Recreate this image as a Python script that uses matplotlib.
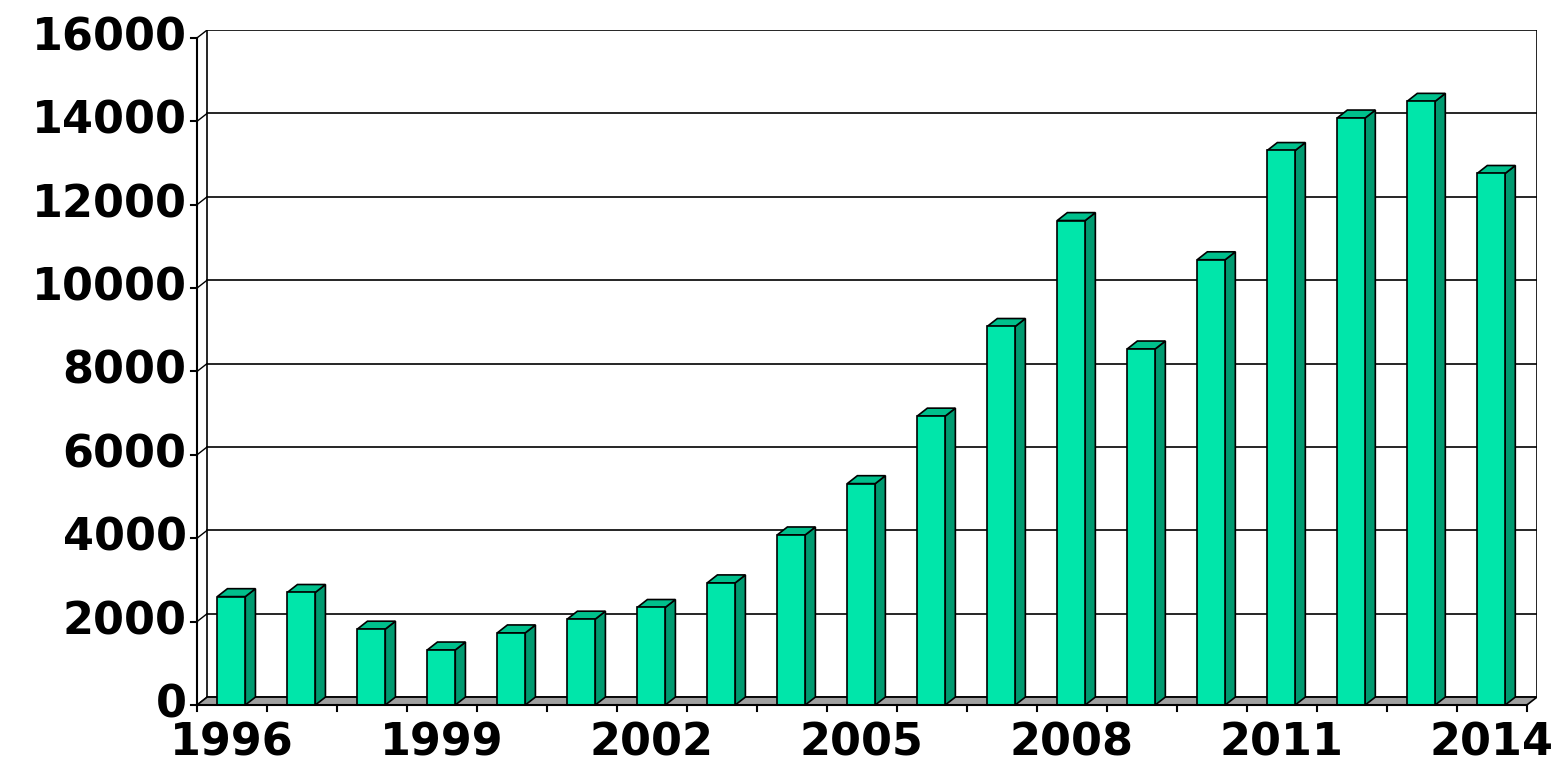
import matplotlib
matplotlib.use("Agg")
import matplotlib.pyplot as plt
from matplotlib.patches import Polygon

years = list(range(1996, 2015))
values = [2600, 2700, 1820, 1320, 1730, 2060, 2340, 2930, 4080, 5310,
          6930, 9080, 11620, 8540, 10680, 13300, 14080, 14480, 12750]
yticks = list(range(0, 16001, 2000))

DX = 0.145   # depth offset in category units
DY = 190     # depth offset in value units
W = 0.4
OFF = 0.29

fig = plt.figure(figsize=(15.61, 7.75), dpi=100)
ax = fig.add_axes([197 / 1561, 1 - 705 / 775, 1340 / 1561, 675 / 775])
n = len(years)
ax.set_xlim(0, n + DX)
ax.set_ylim(0, 16000 + DY)
ax.axis('off')

# back wall grid
for t in yticks:
    ax.plot([DX, n + DX], [t + DY, t + DY], color='black', lw=1.2, zorder=1)
ax.plot([DX, DX], [DY, 16000 + DY], color='black', lw=1.2, zorder=1)
ax.plot([n + DX, n + DX], [DY, 16000 + DY], color='black', lw=1.2, zorder=1)
# floor
ax.add_patch(Polygon([(0, 0), (n, 0), (n + DX, DY), (DX, DY)], closed=True,
                     facecolor='#a0a0a0', edgecolor='black', lw=1.2, zorder=2))

for i, v in enumerate(values):
    x0 = i + OFF
    x1 = x0 + W
    ax.add_patch(Polygon([(x0, 0), (x1, 0), (x1, v), (x0, v)], closed=True,
                         facecolor='#00e6aa', edgecolor='black', lw=1.2, zorder=4))
    ax.add_patch(Polygon([(x1, 0), (x1 + DX, DY), (x1 + DX, v + DY), (x1, v)], closed=True,
                         facecolor='#009a70', edgecolor='black', lw=1.2, zorder=3))
    ax.add_patch(Polygon([(x0, v), (x1, v), (x1 + DX, v + DY), (x0 + DX, v + DY)], closed=True,
                         facecolor='#00c08c', edgecolor='black', lw=1.2, zorder=3))

# front axes
ax.plot([0, 0], [0, 16000], color='black', lw=1.5, zorder=5, clip_on=False)
ax.plot([0, n], [0, 0], color='black', lw=1.5, zorder=5, clip_on=False)
for t in yticks:
    ax.plot([-0.08, 0], [t, t], color='black', lw=1.5, clip_on=False)
    ax.plot([0, DX], [t, t + DY], color='black', lw=1.0, zorder=1)
    ax.text(-0.15, t, str(t), ha='right', va='center', fontsize=32,
            fontweight='bold', clip_on=False)
for i in range(n + 1):
    ax.plot([i, i], [0, -150], color='black', lw=1.5, clip_on=False)
for i, y in enumerate(years):
    if (y - 1996) % 3 == 0:
        ax.text(i + 0.5, -400, str(y), ha='center', va='top', fontsize=32,
                fontweight='bold', clip_on=False)

fig.savefig('out.png', dpi=100)
